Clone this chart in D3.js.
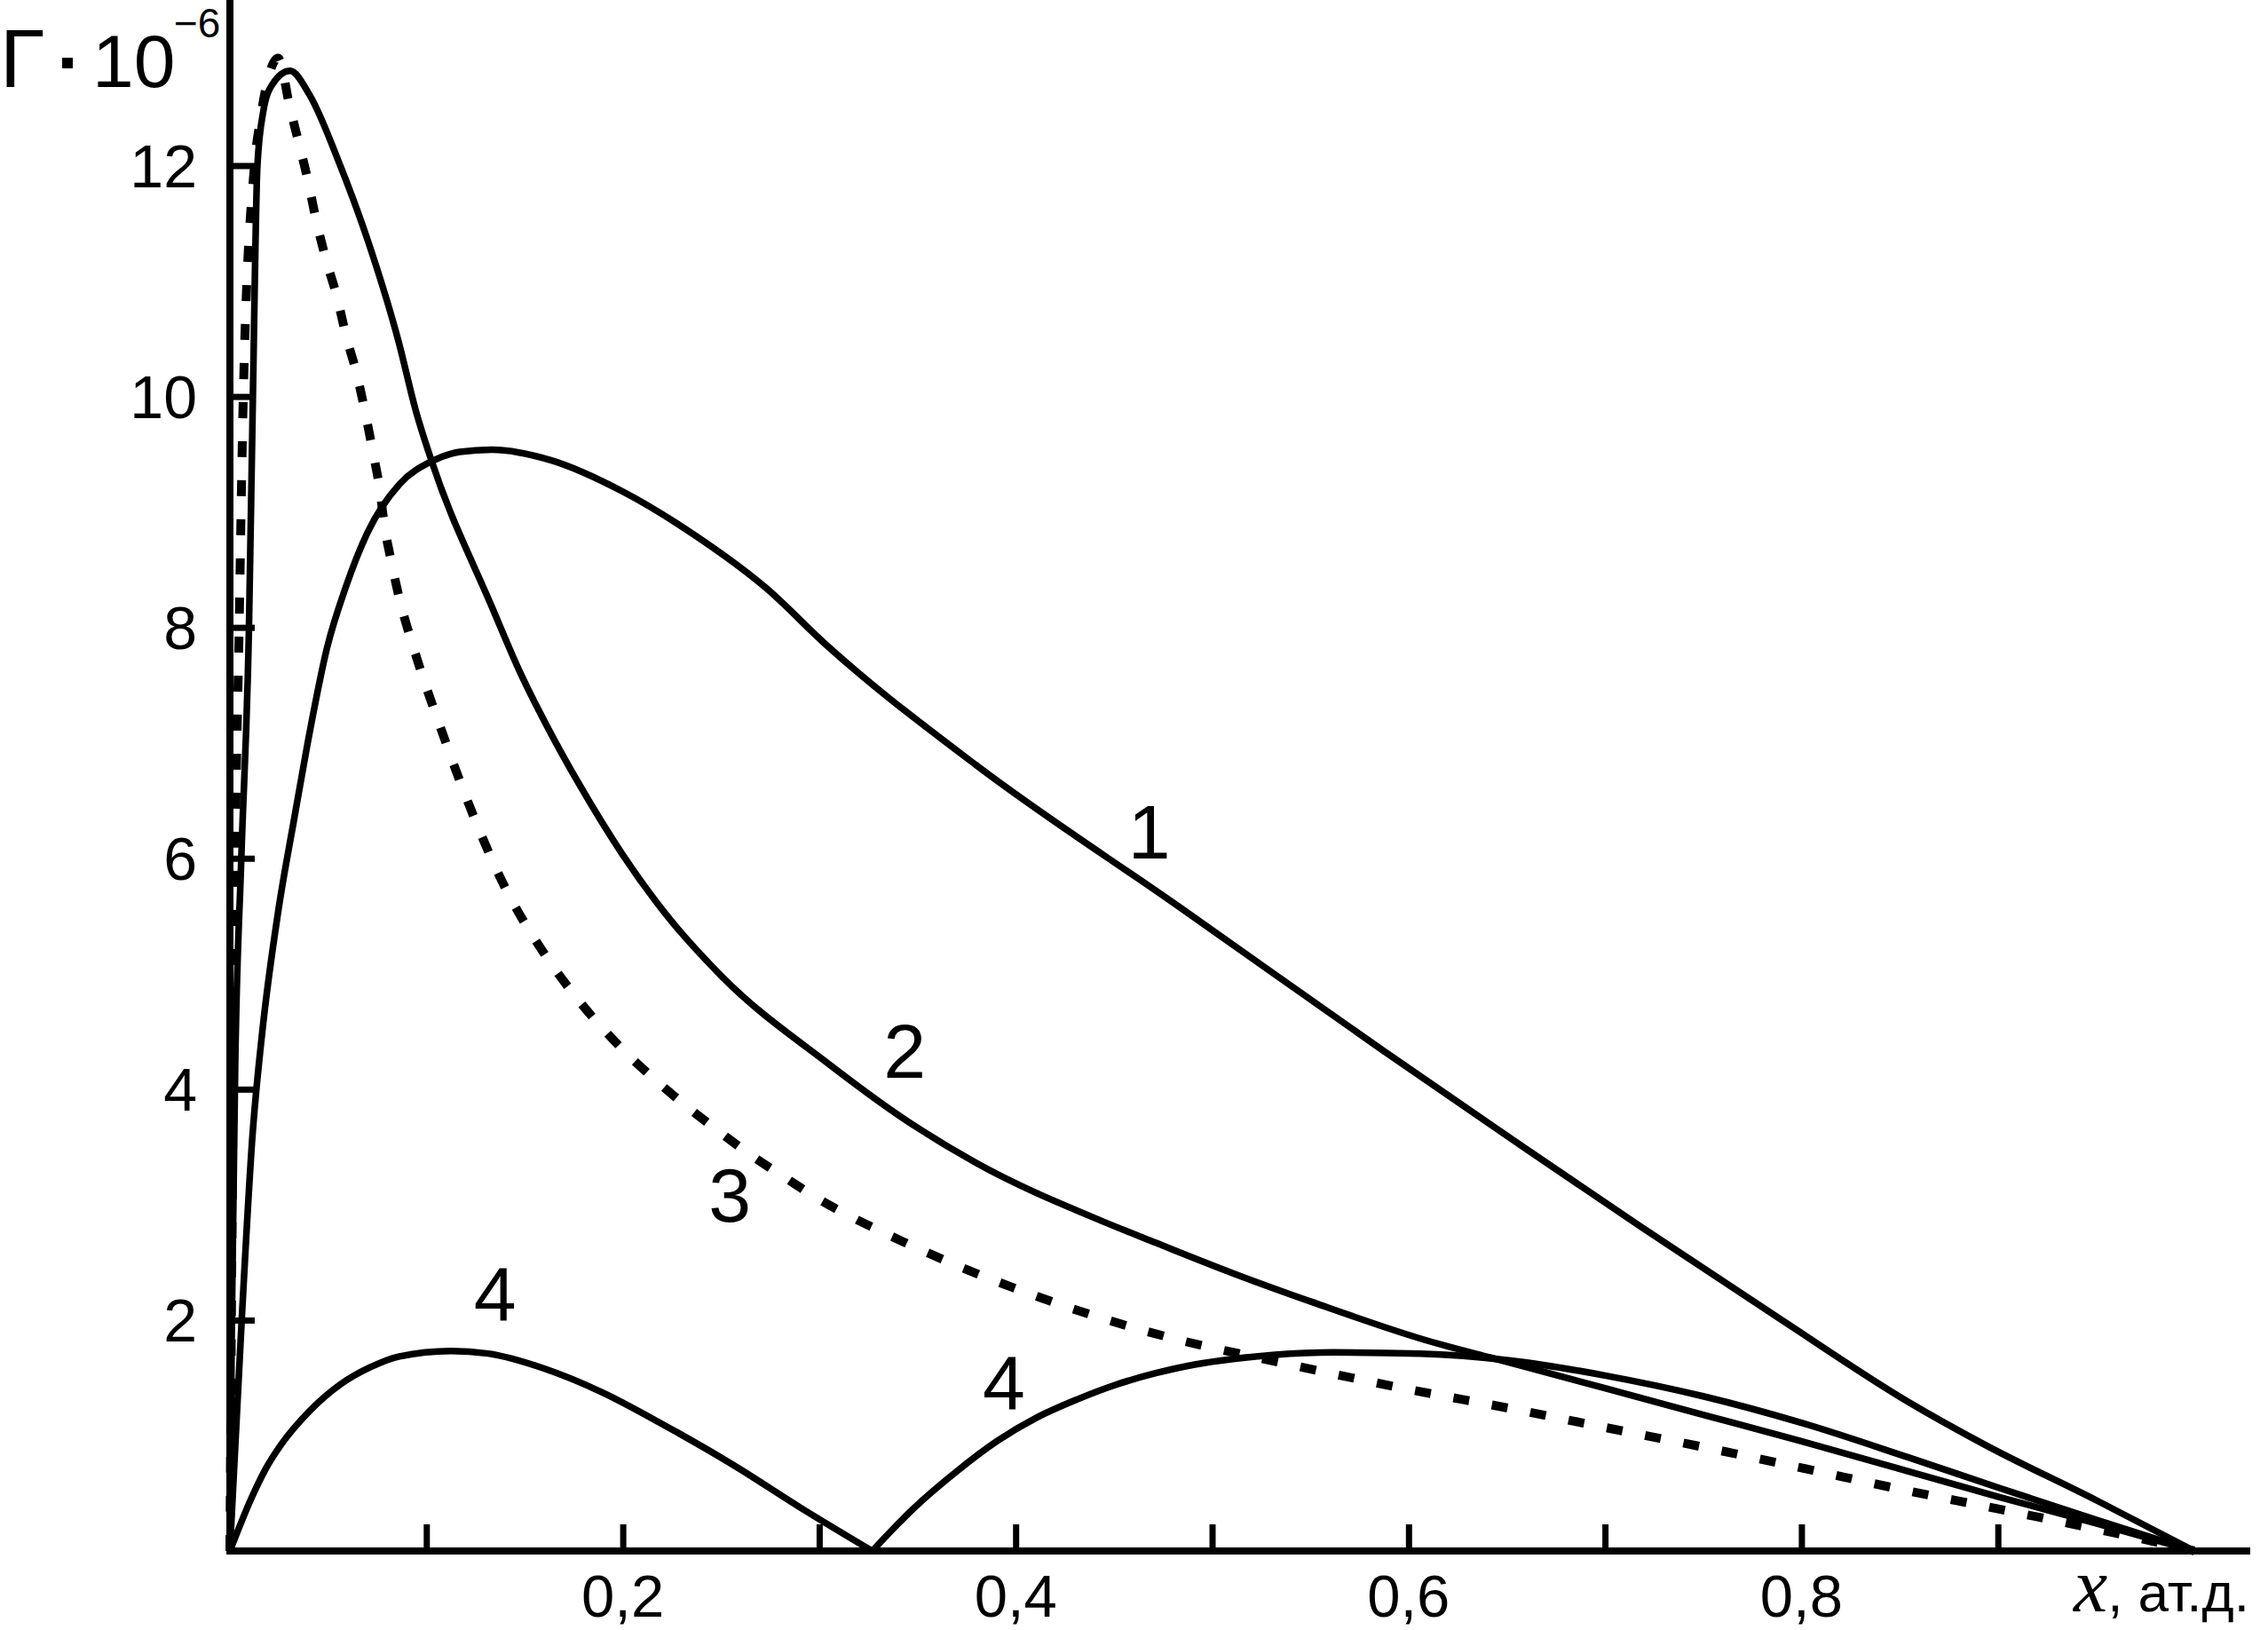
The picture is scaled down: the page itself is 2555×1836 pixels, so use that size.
<!DOCTYPE html>
<html>
<head>
<meta charset="utf-8">
<script src="https://cdn.jsdelivr.net/npm/d3@7"></script>
<style>
  html, body { margin: 0; padding: 0; background: #fff; }
  svg { display: block; }
  text { font-family: "Liberation Sans", Arial, sans-serif; fill: #000; }
</style>
</head>
<body>
<script>
// ---------------- data ----------------
const xTicks = [0.1, 0.2, 0.3, 0.4, 0.5, 0.6, 0.7, 0.8, 0.9];
const xTickLabels = [[0.2, "0,2"], [0.4, "0,4"], [0.6, "0,6"], [0.8, "0,8"]];
const yTicks = [2, 4, 6, 8, 10, 12];

// curve 1 (solid, broad maximum)
const curve1 = [
  [0,0],[0.006,2.0],[0.0115,3.6],[0.0165,4.5],[0.0245,5.53],[0.0328,6.35],[0.0396,7.0],
  [0.0494,7.82],[0.059,8.35],[0.07,8.82],[0.0863,9.24],[0.1029,9.44],[0.117,9.52],
  [0.1333,9.54],[0.163,9.45],[0.1996,9.18],[0.2365,8.8],[0.273,8.34],[0.3028,7.86],
  [0.38,6.805],[0.484,5.57],[0.5874,4.33],[0.66,3.48],[0.719,2.80],[0.79,2.0],
  [0.8545,1.29],[0.8934,0.92],[0.95,0.44],[1.0,0]
];
// curve 2 (solid, sharp maximum)
const curve2 = [
  [0,0],[0.001,2.0],[0.0027,4.21],[0.0058,6.0],[0.0097,8.0],[0.0117,10.0],
  [0.014,12.0],[0.017,12.47],[0.0215,12.7],[0.0306,12.82],[0.0406,12.61],[0.0557,12.02],
  [0.0708,11.32],[0.0858,10.48],[0.0949,9.86],[0.1029,9.43],[0.1333,8.18],
  [0.148,7.6],[0.1628,7.1],[0.1775,6.65],[0.1996,6.04],[0.2217,5.52],
  [0.2505,4.975],[0.3047,4.22],[0.3425,3.75],[0.38,3.36],[0.445,2.85],[0.4713,2.67],
  [0.5115,2.4],[0.552,2.15],[0.606,1.84],[0.652,1.63],[0.7,1.41],[0.75,1.18],[0.8,0.95],
  [0.8545,0.69],[0.9,0.47],[0.95,0.24],[1.0,0]
];
// curve 3 (dotted)
const curve3 = [
  [0,0],[0.0017,4.21],[0.0027,6.0],[0.0047,8.0],[0.0068,10.0],[0.0125,12.0],[0.0155,12.4],
  [0.02,12.79],[0.0245,12.93],[0.0306,12.5],[0.035,12.2],[0.0396,11.88],[0.044,11.52],
  [0.0487,11.2],[0.0547,10.85],[0.0592,10.52],[0.0645,10.2],[0.069,9.85],[0.0728,9.52],
  [0.0765,9.17],[0.0785,8.9],[0.0818,8.6],[0.087,8.2],[0.093,7.85],[0.099,7.53],
  [0.1058,7.2],[0.1186,6.6],[0.1406,5.73],[0.159,5.2],[0.1775,4.77],[0.1996,4.35],
  [0.222,4.0],[0.25,3.62],[0.266,3.42],[0.283,3.23],[0.2996,3.05],
  [0.3168,2.89],[0.335,2.74],[0.3705,2.47],[0.4085,2.22],[0.447,2.0],[0.485,1.82],
  [0.5246,1.67],[0.56,1.54],[0.6,1.4],[0.65,1.24],[0.7,1.07],[0.75,0.9],[0.8,0.72],
  [0.8545,0.52],[0.894,0.385],[0.933,0.25],[0.972,0.11],[1.0,0]
];
// curve 4, first arc
const curve4a = [
  [0,0],[0.011,0.46],[0.0185,0.72],[0.026,0.92],[0.041,1.22],[0.056,1.44],[0.0713,1.59],
  [0.0863,1.685],[0.1125,1.733],[0.1315,1.71],[0.16,1.58],[0.19,1.37],[0.22,1.10],
  [0.2567,0.74],[0.29,0.38],[0.327,0]
];
// curve 4, second arc
const curve4b = [
  [0.327,0],[0.3475,0.36],[0.3704,0.695],[0.3904,0.95],[0.4108,1.156],[0.4309,1.31],
  [0.451,1.44],[0.4713,1.54],[0.4912,1.615],[0.5115,1.665],[0.532,1.70],[0.562,1.72],
  [0.606,1.71],[0.652,1.65],[0.7,1.52],[0.75,1.34],[0.8,1.11],[0.8545,0.81],[0.9,0.55],
  [0.95,0.27],[1.0,0]
];
// curve number labels [x, y, text]
const curveLabels = [
  [0.468, 6.0, "1"], [0.3435, 4.1, "2"], [0.2545, 2.85, "3"], [0.135, 2.0, "4"], [0.394, 1.23, "4"]
];

// ---------------- drawing ----------------
const W = 2555, H = 1836;
const svg = d3.select("body").append("svg").attr("width", W).attr("height", H);
svg.append("rect").attr("width", W).attr("height", H).attr("fill", "#fff");

const x = d3.scaleLinear().domain([0, 1]).range([259, 2472]);
const y = d3.scaleLinear().domain([0, 12]).range([1747, 186.5]);

// y ticks (inside)
const yAxis = d3.axisRight(y).tickValues(yTicks).tickSize(28).tickFormat("");
const gy = svg.append("g").attr("transform", `translate(${x(0)},0)`).call(yAxis);
gy.select(".domain").remove();
gy.selectAll(".tick line").attr("stroke", "#000").attr("stroke-width", 7);

// x ticks (inside, pointing up)
const xAxis = d3.axisTop(x).tickValues(xTicks).tickSize(30).tickFormat("");
const gx = svg.append("g").attr("transform", `translate(0,${y(0)})`).call(xAxis);
gx.select(".domain").remove();
gx.selectAll(".tick line").attr("stroke", "#000").attr("stroke-width", 7);

// axis lines
svg.append("line").attr("x1", x(0)).attr("x2", x(0)).attr("y1", 0).attr("y2", y(0) + 4)
  .attr("stroke", "#000").attr("stroke-width", 8);
svg.append("line").attr("x1", x(0) - 4).attr("x2", 2535).attr("y1", y(0)).attr("y2", y(0))
  .attr("stroke", "#000").attr("stroke-width", 8);

// y tick labels
svg.selectAll(".ylab").data(yTicks).enter().append("text")
  .attr("x", 222).attr("y", d => y(d) + 24.5)
  .attr("text-anchor", "end").attr("font-size", 68).text(d => d);

// x tick labels
svg.selectAll(".xlab").data(xTickLabels).enter().append("text")
  .attr("x", d => x(d[0])).attr("y", 1821)
  .attr("text-anchor", "middle").attr("font-size", 67).text(d => d[1]);

// x axis title
const xt = svg.append("text").attr("x", 2336).attr("y", 1815);
xt.append("tspan").attr("font-family", "'Liberation Serif', 'Times New Roman', serif")
  .attr("font-style", "italic").attr("font-size", 86).text("x");
xt.append("tspan").attr("font-size", 62).text(", ат.д.");

// y axis title  Γ · 10^-6
svg.append("text").attr("x", 0).attr("y", 98).attr("font-size", 92).text("Γ");
svg.append("rect").attr("x", 70).attr("y", 65).attr("width", 12).attr("height", 12).attr("fill", "#000");
svg.append("text").attr("x", 104).attr("y", 98).attr("font-size", 84).text("10");
svg.append("text").attr("x", 196).attr("y", 42).attr("font-size", 46).text("−6");

// curves
const line = d3.line().x(d => x(d[0])).y(d => y(d[1])).curve(d3.curveMonotoneX);
const solid = [curve1, curve2, curve4a, curve4b];
svg.selectAll(".solid").data(solid).enter().append("path")
  .attr("d", line).attr("fill", "none").attr("stroke", "#000")
  .attr("stroke-width", 7.5).attr("stroke-linejoin", "round");
svg.append("path").datum(curve3).attr("d", line).attr("fill", "none")
  .attr("stroke", "#000").attr("stroke-width", 10).attr("stroke-dasharray", "18 26");

// curve labels
svg.selectAll(".clab").data(curveLabels).enter().append("text")
  .attr("x", d => x(d[0])).attr("y", d => y(d[1]))
  .attr("text-anchor", "middle").attr("font-size", 86).text(d => d[2]);
</script>
</body>
</html>
